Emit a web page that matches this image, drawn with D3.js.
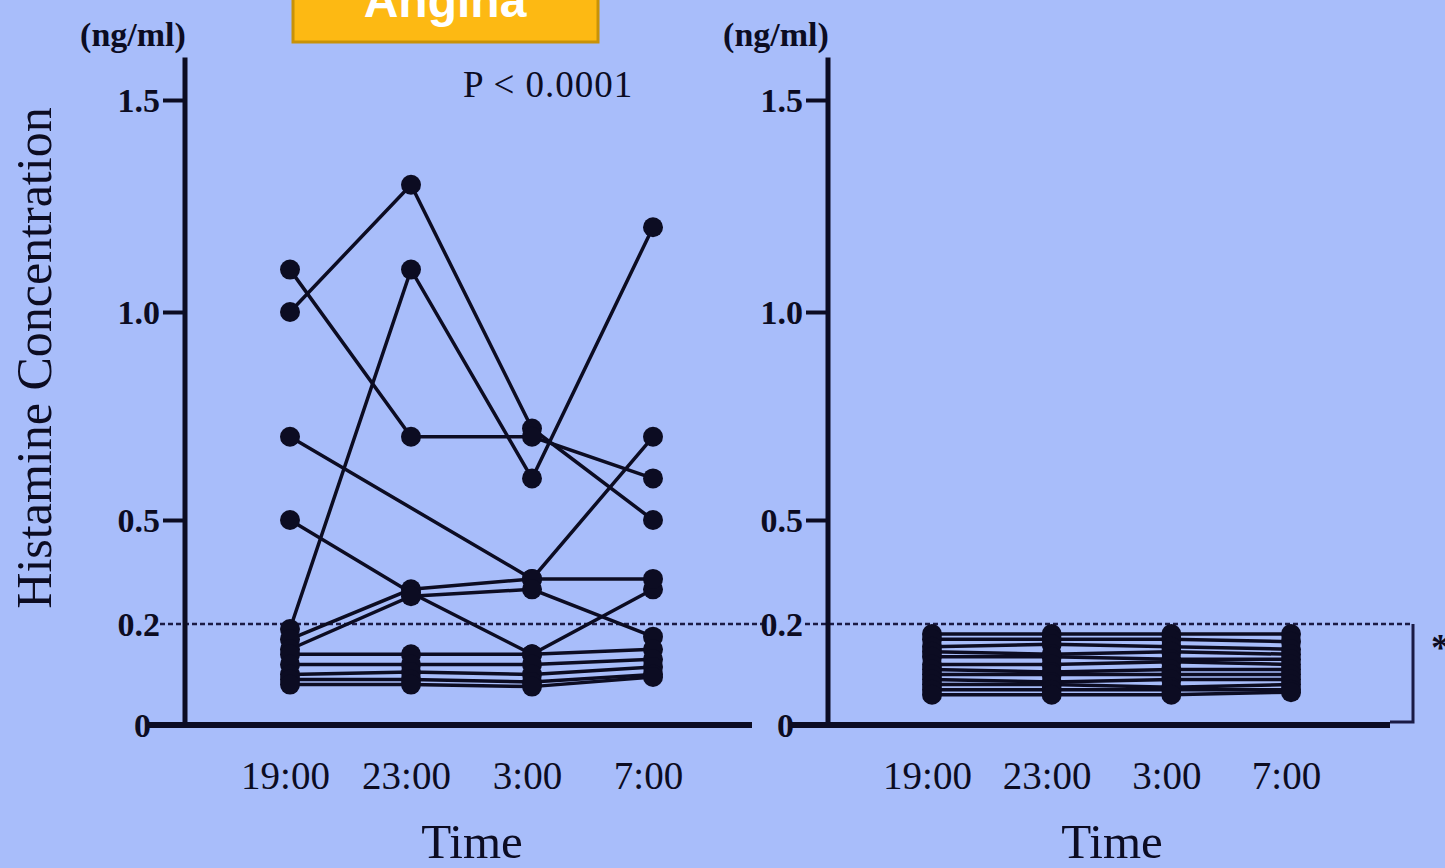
<!DOCTYPE html>
<html>
<head>
<meta charset="utf-8">
<script src="https://cdn.jsdelivr.net/npm/d3@7"></script>
<style>
  html, body { margin: 0; padding: 0; background: #a8bdfa; overflow: hidden; }
  svg { display: block; }
</style>
</head>
<body>
<svg id="chart" width="1445" height="868"></svg>
<script>
'use strict';
const TIMES = ['19:00', '23:00', '3:00', '7:00'];
const Y_TICKS = [0, 0.2, 0.5, 1.0, 1.5];
const Y_TICK_LABELS = ['0', '0.2', '0.5', '1.0', '1.5'];
const THRESHOLD = 0.2;
const UNIT = '(ng/ml)';
const Y_TITLE = 'Histamine Concentration';
const X_TITLE = 'Time';
const P_LABEL = 'P < 0.0001';

// angina patients, one row per patient (19:00, 23:00, 3:00, 7:00), null = missing
const ANGINA = [
  [1.0, 1.3, 0.72, 0.5],
  [1.1, 0.7, 0.7, 0.6],
  [0.19, 1.1, 0.6, 1.2],
  [0.7, null, 0.33, 0.7],
  [0.5, 0.29, 0.14, 0.3],
  [0.17, 0.3, 0.33, 0.33],
  [0.15, 0.28, 0.3, 0.175],
  [0.14, 0.14, 0.14, 0.15],
  [0.12, 0.12, 0.12, 0.13],
  [0.1, 0.105, 0.1, 0.115],
  [0.09, 0.09, 0.085, 0.1],
  [0.08, 0.08, 0.076, 0.095],
];

// control subjects
const CONTROL = [
  [0.18, 0.18, 0.18, 0.18],
  [0.17, 0.17, 0.17, 0.165],
  [0.155, 0.16, 0.155, 0.15],
  [0.145, 0.14, 0.145, 0.14],
  [0.135, 0.135, 0.13, 0.13],
  [0.12, 0.12, 0.125, 0.12],
  [0.11, 0.105, 0.11, 0.11],
  [0.1, 0.1, 0.1, 0.1],
  [0.09, 0.085, 0.09, 0.09],
  [0.08, 0.08, 0.075, 0.08],
  [0.07, 0.07, 0.07, 0.07],
  [0.06, 0.06, 0.06, 0.065],
];

const INK = '#0c0c22';
const SERIF = '"Liberation Serif", "DejaVu Serif", serif';

const svg = d3.select('#chart');

// the original axis is not linear: 0-0.2 and 0.2-0.5 are stretched
const y = d3.scaleLinear().domain(Y_TICKS).range([725, 624, 520, 312, 100]);

const panels = [
  { data: ANGINA, axisX: 185, xRange: [290, 653], frame: [148, 752], dash: [160, 765], p: true },
  { data: CONTROL, axisX: 828, xRange: [932, 1291], frame: [790, 1390], dash: [805, 1413], bracket: true },
];

// orange label box, cut at the top of the slide
svg.append('rect')
  .attr('x', 293).attr('y', -20).attr('width', 305).attr('height', 62)
  .attr('fill', '#fdb913').attr('stroke', '#c89208').attr('stroke-width', 3);
svg.append('text')
  .attr('x', 445).attr('y', 17)
  .attr('text-anchor', 'middle')
  .attr('font-family', '"Liberation Sans", Arial, sans-serif')
  .attr('font-weight', 'bold').attr('font-size', 48)
  .attr('fill', '#fff')
  .text('Angina');

// title of the right panel, almost entirely off the top
svg.append('text')
  .attr('x', 817).attr('y', -15)
  .attr('font-family', SERIF).attr('font-weight', 'bold').attr('font-size', 58)
  .attr('fill', INK)
  .text('Control group');

// y title
svg.append('text')
  .attr('transform', 'translate(51,358) rotate(-90)')
  .attr('text-anchor', 'middle')
  .attr('font-family', SERIF).attr('font-size', 50)
  .attr('fill', INK)
  .text(Y_TITLE);

panels.forEach((p) => {
  let x = d3.scalePoint().domain(TIMES).range(p.xRange);
  let g = svg.append('g');

  // threshold line
  g.append('line')
    .attr('x1', p.dash[0]).attr('x2', p.dash[1])
    .attr('y1', y(THRESHOLD)).attr('y2', y(THRESHOLD))
    .attr('stroke', '#1a1a44').attr('stroke-width', 2.5)
    .attr('stroke-dasharray', '5,3');

  if (p.bracket) {
    g.append('path')
      .attr('d', d3.line()([
        [p.dash[1], y(THRESHOLD)],
        [p.dash[1], y(0) - 3],
        [p.frame[1], y(0) - 3],
      ]))
      .attr('fill', 'none').attr('stroke', '#1a1a44').attr('stroke-width', 3);
    g.append('text')
      .attr('x', 1431).attr('y', 660)
      .attr('font-family', SERIF).attr('font-weight', 'bold').attr('font-size', 38)
      .attr('fill', INK)
      .text('*');
  }

  // y axis
  let yAxis = (sel) =>
    sel
      .call(d3.axisLeft(y).tickValues(Y_TICKS).tickSize(22)
        .tickFormat((d, i) => Y_TICK_LABELS[i]))
      .call((s) => s.select('.domain').remove())
      .call((s) => s.selectAll('.tick line')
        .attr('stroke', INK).attr('stroke-width', 4)
        .attr('opacity', (d) => (d === 0 || d === THRESHOLD ? 0 : 1)))
      .call((s) => s.selectAll('.tick text')
        .attr('fill', INK)
        .attr('font-family', SERIF).attr('font-weight', 'bold').attr('font-size', 34)
        .attr('x', (d) => (d === 0 ? -34 : -25))
        .attr('dy', '0.34em'));
  g.append('g')
    .attr('transform', `translate(${p.axisX},0)`)
    .call(yAxis);

  g.append('line')
    .attr('x1', p.axisX).attr('x2', p.axisX)
    .attr('y1', y(0)).attr('y2', y(1.6))
    .attr('stroke', INK).attr('stroke-width', 5);

  g.append('line')
    .attr('x1', p.frame[0]).attr('x2', p.frame[1])
    .attr('y1', y(0)).attr('y2', y(0))
    .attr('stroke', INK).attr('stroke-width', 6);

  g.append('text')
    .attr('x', p.axisX - 52).attr('y', 46)
    .attr('text-anchor', 'middle')
    .attr('font-family', SERIF).attr('font-weight', 'bold').attr('font-size', 34)
    .attr('fill', INK)
    .text(UNIT);

  // x axis labels
  let xAxis = (sel) =>
    sel
      .call(d3.axisBottom(x).tickSize(0).tickPadding(0))
      .call((s) => s.select('.domain').remove())
      .call((s) => s.selectAll('.tick text')
        .attr('fill', INK)
        .attr('font-family', SERIF).attr('font-size', 39)
        .attr('dx', -5)
        .attr('dy', 0).attr('y', 64));
  g.append('g')
    .attr('transform', `translate(0,${y(0)})`)
    .call(xAxis);

  g.append('text')
    .attr('x', (p.frame[0] + p.frame[1]) / 2 + 22).attr('y', 858)
    .attr('text-anchor', 'middle')
    .attr('font-family', SERIF).attr('font-size', 49)
    .attr('fill', INK)
    .text(X_TITLE);

  if (p.p) {
    g.append('text')
      .attr('x', 463).attr('y', 97)
      .attr('font-family', SERIF).attr('font-size', 37)
      .attr('letter-spacing', 1)
      .attr('fill', INK)
      .text(P_LABEL);
  }

  // subject lines and dots
  let rows = p.data.map((row) =>
    row.map((v, i) => ({ t: TIMES[i], v })).filter((d) => d.v !== null)
  );
  let line = d3.line().x((d) => x(d.t)).y((d) => y(d.v));

  g.append('g')
    .selectAll('path')
    .data(rows)
    .enter()
    .append('path')
    .attr('d', line)
    .attr('fill', 'none')
    .attr('stroke', INK)
    .attr('stroke-width', 3.5);

  g.append('g')
    .selectAll('circle')
    .data(rows.flat())
    .enter()
    .append('circle')
    .attr('cx', (d) => x(d.t))
    .attr('cy', (d) => y(d.v))
    .attr('r', 10)
    .attr('fill', INK);
});
</script>
</body>
</html>
